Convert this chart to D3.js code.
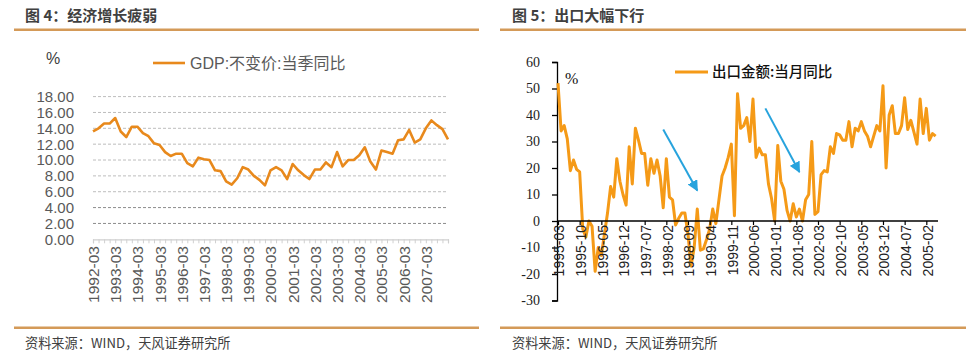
<!DOCTYPE html>
<html><head><meta charset="utf-8">
<script src="https://cdn.jsdelivr.net/npm/d3@7"></script>
<style>
html,body{margin:0;padding:0;background:#fff;}
svg{display:block;}
</style></head>
<body>
<svg id="c" width="978" height="356"></svg>
<script>
// ---------- DATA ----------
const gdpStart = [1992, 3];            // first quarter (year, month)
const gdpValues = [13.6,14.0,14.6,14.6,15.3,13.6,12.9,14.2,14.2,13.4,
  13.0,12.1,11.9,11.0,10.5,10.8,10.8,9.6,9.2,10.3,
  10.1,10.0,8.7,8.6,7.3,6.9,7.7,9.1,8.8,8.0,
  7.5,6.8,8.7,9.1,8.7,7.6,9.5,8.7,8.1,7.6,
  8.8,8.8,9.7,9.1,11.0,9.2,10.0,10.0,10.6,11.6,
  9.8,8.8,11.2,11.0,10.8,12.5,12.6,13.8,12.2,12.6,
  14.0,15.0,14.4,13.9,12.6];
const gdpTickLabels = ["1992-03","1993-03","1994-03","1995-03","1996-03","1997-03","1998-03","1999-03",
  "2000-03","2001-03","2002-03","2003-03","2004-03","2005-03","2006-03","2007-03"];
const gdpYTicks = [0,2,4,6,8,10,12,14,16,18];

const expStart = [1995, 3];            // first month (year, month)
const expValues = [52,34,36,31,19,23,19.5,18.5,-3,-6,
  0,-2,-19,-10,-13,-5,3,13,9,23.5,
  15,10,6,28,14,35,30.5,25.5,25.5,13.5,
  23.5,18,23,17,5,23.5,9,8,-1.5,1,
  3,3,-5,-17,-10,4.5,-11,-10.5,-7,-3,
  4.5,-1,8,17,20,24,29,2,48,35,
  36,39,30,46,24,27.5,25,25,14,8.5,
  0,28.5,15,12,4,0,6.5,1.5,4.5,0,
  8,10,30,2.5,3.5,17.5,19,18.5,28,25.5,
  33,32.5,30.5,30.5,37.5,28,35,34,37.5,34,
  32,28,32,36,34,51,20,40,43.5,33,
  33,36,46.5,34.5,38,33.5,29,46,33,42.5,
  30.5,33,32];
const expTickLabels = ["1995-03","1995-10","1996-05","1996-12","1997-07","1998-02","1998-09","1999-04",
  "1999-11","2000-06","2001-01","2001-08","2002-03","2002-10","2003-05","2003-12","2004-07","2005-02"];
const expYTicks = [-30,-20,-10,0,10,20,30,40,50,60];
// arrows: [start category, start value, end category, end value]
const arrowStarts = ["1998-01","2000-10"];
const arrowStartVals = [34.5, 42.5];
const arrowEnds = ["1998-12","2001-09"];
const arrowEndVals = [11.5, 18.5];

function pad(n){return (n<10?"0":"")+n;}
function makeCats(start, n, stepMonths){
  const out=[]; let y=start[0], m=start[1];
  for(let i=0;i<n;i++){ out.push(y+"-"+pad(m)); m+=stepMonths; while(m>12){m-=12;y++;} }
  return out;
}
const gdpCats = makeCats(gdpStart, gdpValues.length, 3);
const expCats = makeCats(expStart, expValues.length, 1);

const svg = d3.select("#c");
const CJK = "'Noto Sans CJK SC','Liberation Sans',sans-serif";
const SANS = "'Liberation Sans',Arial,sans-serif";
const SERIF = "'Liberation Serif','Times New Roman',serif";

// ---------- FRAMES ----------
function frame(x0, x1, title, tx){
  svg.append("text").attr("x",tx).attr("y",20.5).text(title)
    .attr("font-family",CJK).attr("font-size",15).attr("font-weight","bold").attr("fill","#404040");
  svg.append("line").attr("x1",x0).attr("x2",x1).attr("y1",29.8).attr("y2",29.8)
    .attr("stroke","#d49a58").attr("stroke-width",2.6);
  svg.append("line").attr("x1",x0).attr("x2",x1).attr("y1",327.8).attr("y2",327.8)
    .attr("stroke","#d49a58").attr("stroke-width",2.6);
  svg.append("text").attr("x",tx).attr("y",348).text("资料来源：WIND，天风证券研究所")
    .attr("font-family",CJK).attr("font-size",13.2).attr("fill","#404040");
}
frame(14, 479, "图 4：经济增长疲弱", 25);
frame(500, 966, "图 5：出口大幅下行", 512);

// ---------- LEFT CHART ----------
(function(){
  const g = svg.append("g");
  const x = d3.scalePoint().domain(gdpCats).range([93, 448]);
  const y = d3.scaleLinear().domain([0,18]).range([239.3, 96.6]);
  // gridlines
  g.selectAll("line.grid").data(gdpYTicks.filter(d=>d>0)).join("line")
    .attr("x1",93).attr("x2",448).attr("y1",d=>y(d)).attr("y2",d=>y(d))
    .attr("stroke",d=>d<=4?"#8c8c8c":"#bdbdbd").attr("stroke-width",1).attr("stroke-dasharray","3,2");
  // y labels
  g.selectAll("text.yl").data(gdpYTicks).join("text")
    .attr("x",74).attr("y",d=>y(d)).attr("dy","0.36em").attr("text-anchor","end")
    .attr("font-family",SANS).attr("font-size",15).attr("fill","#595959")
    .text(d=>d3.format(".2f")(d));
  // x axis
  const xa = d3.axisBottom(x).tickValues(gdpCats).tickSize(4).tickFormat("");
  const ax = g.append("g").attr("transform","translate(0,"+y(0)+")").call(xa);
  ax.select(".domain").attr("stroke","#d0d0d0").attr("stroke-width",1.2);
  ax.selectAll(".tick line").attr("stroke","#d0d0d0");
  g.selectAll("text.xl").data(gdpTickLabels).join("text")
    .attr("transform",d=>"translate("+(x(d)+0.5)+",246) rotate(-90)")
    .attr("text-anchor","end").attr("dy","0.35em")
    .attr("font-family",SANS).attr("font-size",15.5).attr("fill","#595959").text(d=>d);
  // line
  const line = d3.line().x((d,i)=>x(gdpCats[i])).y(d=>y(d));
  g.append("path").datum(gdpValues).attr("d",line).attr("fill","none")
    .attr("stroke","#e8891c").attr("stroke-width",2.6).attr("stroke-linejoin","round");
  // legend & unit
  g.append("text").attr("x",46).attr("y",63.5).text("%")
    .attr("font-family",SANS).attr("font-size",16).attr("fill","#404040");
  g.append("line").attr("x1",153).attr("x2",185).attr("y1",63).attr("y2",63)
    .attr("stroke","#e8891c").attr("stroke-width",2.6);
  g.append("text").attr("x",190).attr("y",69).text("GDP:不变价:当季同比")
    .attr("font-family",SANS+",'Noto Sans CJK SC'").attr("font-size",16).attr("fill","#595959");
})();

// ---------- RIGHT CHART ----------
(function(){
  const g = svg.append("g");
  const x = d3.scalePoint().domain(expCats).range([558, 935.6]);
  const y = d3.scaleLinear().domain([-30,60]).range([300.5, 62]);
  // y axis
  const ya = d3.axisLeft(y).tickValues(expYTicks).tickSize(5).tickFormat("");
  const ay = g.append("g").attr("transform","translate(557,0)").call(ya);
  ay.select(".domain").attr("stroke","#000").attr("stroke-width",1.3);
  ay.selectAll(".tick line").attr("stroke","#000").attr("stroke-width",1.3);
  g.selectAll("text.yl").data(expYTicks).join("text")
    .attr("x",540).attr("y",d=>y(d)).attr("dy","0.34em").attr("text-anchor","end")
    .attr("font-family",SERIF).attr("font-size",14).attr("fill","#222").text(d=>d);
  // line
  const line = d3.line().x((d,i)=>x(expCats[i])).y(d=>y(d));
  g.append("path").datum(expValues).attr("d",line).attr("fill","none")
    .attr("stroke","#f59a17").attr("stroke-width",3).attr("stroke-linejoin","round");
  // x axis at zero
  const xa = d3.axisBottom(x).tickValues(expTickLabels).tickSize(4).tickFormat("");
  const ax = g.append("g").attr("transform","translate(0,"+y(0)+")").call(xa);
  ax.select(".domain").attr("stroke","#000").attr("stroke-width",1.3).attr("d","M557,0H938");
  ax.selectAll(".tick line").attr("stroke","#000").attr("stroke-width",1.2);
  g.selectAll("text.xl").data(expTickLabels).join("text")
    .attr("transform",d=>"translate("+(x(d)+1.5)+","+(y(0)+4)+") rotate(-90)")
    .attr("text-anchor","end").attr("dy","0.35em")
    .attr("font-family",SANS).attr("font-size",14).attr("fill","#222").text(d=>d);
  // arrows
  const defs = svg.append("defs");
  defs.append("marker").attr("id","ah").attr("viewBox","0 0 10 10").attr("refX",9).attr("refY",5)
    .attr("markerWidth",5.5).attr("markerHeight",5.5).attr("orient","auto")
    .append("path").attr("d","M0,0L10,5L0,10z").attr("fill","#27a3dd");
  arrowStarts.forEach((s,i)=>{
    g.append("line").attr("x1",x(s)).attr("y1",y(arrowStartVals[i]))
      .attr("x2",x(arrowEnds[i])).attr("y2",y(arrowEndVals[i]))
      .attr("stroke","#27a3dd").attr("stroke-width",2).attr("marker-end","url(#ah)");
  });
  // legend & unit
  g.append("text").attr("x",565).attr("y",84).text("%")
    .attr("font-family",SERIF).attr("font-size",16).attr("fill","#111");
  g.append("line").attr("x1",675).attr("x2",708).attr("y1",72).attr("y2",72)
    .attr("stroke","#f59a17").attr("stroke-width",3);
  g.append("text").attr("x",712).attr("y",77).text("出口金额:当月同比")
    .attr("font-family",CJK).attr("font-size",14.5).attr("font-weight","500").attr("fill","#111");
})();
</script>
</body></html>
